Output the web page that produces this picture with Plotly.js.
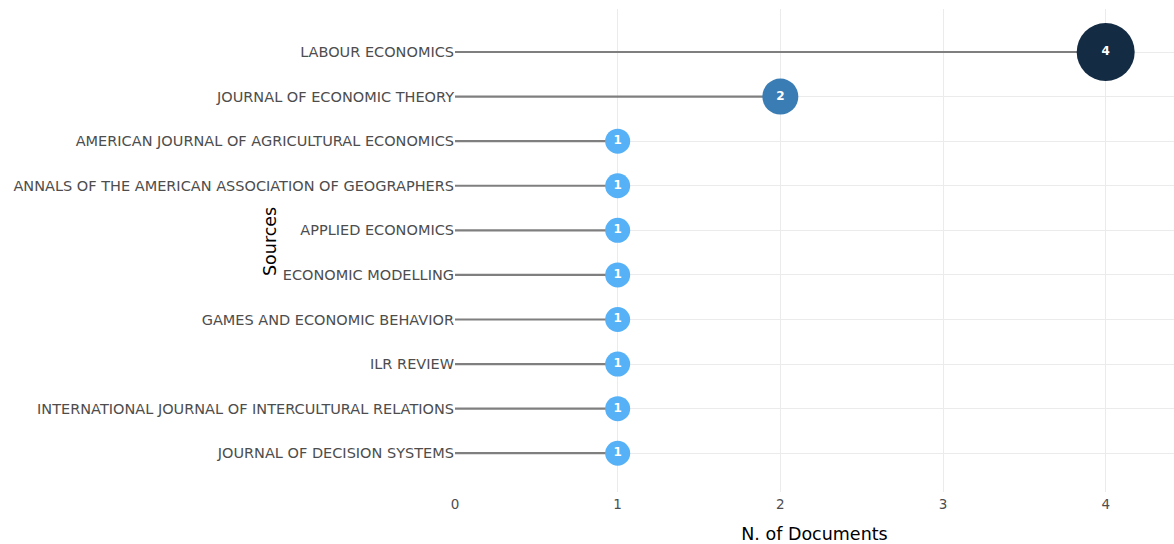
<!DOCTYPE html>
<html>
<head>
<meta charset="utf-8">
<script src="https://cdn.plot.ly/plotly-3.0.1.min.js"></script>
<style>html,body{margin:0;padding:0;background:#fff;}#chart{width:1174px;height:544px;}</style>
</head>
<body>
<div id="chart"></div>
<script>
// Data (top to bottom)
const sources = [
  "LABOUR ECONOMICS",
  "JOURNAL OF ECONOMIC THEORY",
  "AMERICAN JOURNAL OF AGRICULTURAL ECONOMICS",
  "ANNALS OF THE AMERICAN ASSOCIATION OF GEOGRAPHERS",
  "APPLIED ECONOMICS",
  "ECONOMIC MODELLING",
  "GAMES AND ECONOMIC BEHAVIOR",
  "ILR REVIEW",
  "INTERNATIONAL JOURNAL OF INTERCULTURAL RELATIONS",
  "JOURNAL OF DECISION SYSTEMS"
];
const documents = [4, 2, 1, 1, 1, 1, 1, 1, 1, 1];
const xTicks = [0, 1, 2, 3, 4];

// stems
const stemX = [], stemY = [];
sources.forEach((s, i) => { stemX.push(0, documents[i], null); stemY.push(s, s, null); });

const stems = {
  type: 'scatter', mode: 'lines', x: stemX, y: stemY,
  line: {color: '#7f7f7f', width: 2.2}, hoverinfo: 'skip', showlegend: false
};
const dots = {
  type: 'scatter', mode: 'markers+text', x: documents, y: sources,
  text: documents.map(String), textposition: 'middle center',
  textfont: {color: '#ffffff', size: 12, family: 'DejaVu Sans, Verdana, sans-serif', weight: 600},
  marker: {
    size: documents.map(v => 14 + 11 * v), sizemode: 'diameter',
    color: documents, cmin: 1, cmax: 4,
    colorscale: [[0, '#56B1F7'], [0.333, '#3A7DB5'], [1, '#132B43']],
    showscale: false, opacity: 1, line: {width: 0}
  },
  showlegend: false
};

const layout = {
  width: 1174, height: 544,
  margin: {l: 455, r: 0, t: 9, b: 52},
  paper_bgcolor: '#ffffff', plot_bgcolor: '#ffffff',
  font: {family: 'DejaVu Sans, Verdana, sans-serif', color: '#4d4d4d'},
  xaxis: {
    range: [0, 4.42], tickvals: xTicks, ticktext: xTicks.map(String),
    showgrid: true, gridcolor: '#ebebeb', gridwidth: 1, zeroline: false,
    ticks: '', showline: false, tickfont: {size: 13.5, color: '#4d4d4d'},
    ticklabelstandoff: 2,
    title: {text: 'N. of Documents', font: {size: 17.5, color: '#000000'}, standoff: 18}
  },
  yaxis: {
    type: 'category', categoryarray: sources, categoryorder: 'array',
    range: [9.87, -0.965], showgrid: true, gridcolor: '#ebebeb', gridwidth: 1,
    zeroline: false, ticks: '', showline: false, automargin: false,
    tickfont: {size: 14.5, color: '#4d4d4d'}, ticklabelstandoff: 0
  },
  annotations: [{
    text: 'Sources', xref: 'paper', yref: 'paper', x: -0.257, y: 0.518,
    textangle: -90, showarrow: false, font: {size: 17.5, color: '#000000'},
    xanchor: 'center', yanchor: 'middle'
  }]
};

Plotly.newPlot('chart', [stems, dots], layout, {displayModeBar: false, staticPlot: true});
</script>
</body>
</html>
